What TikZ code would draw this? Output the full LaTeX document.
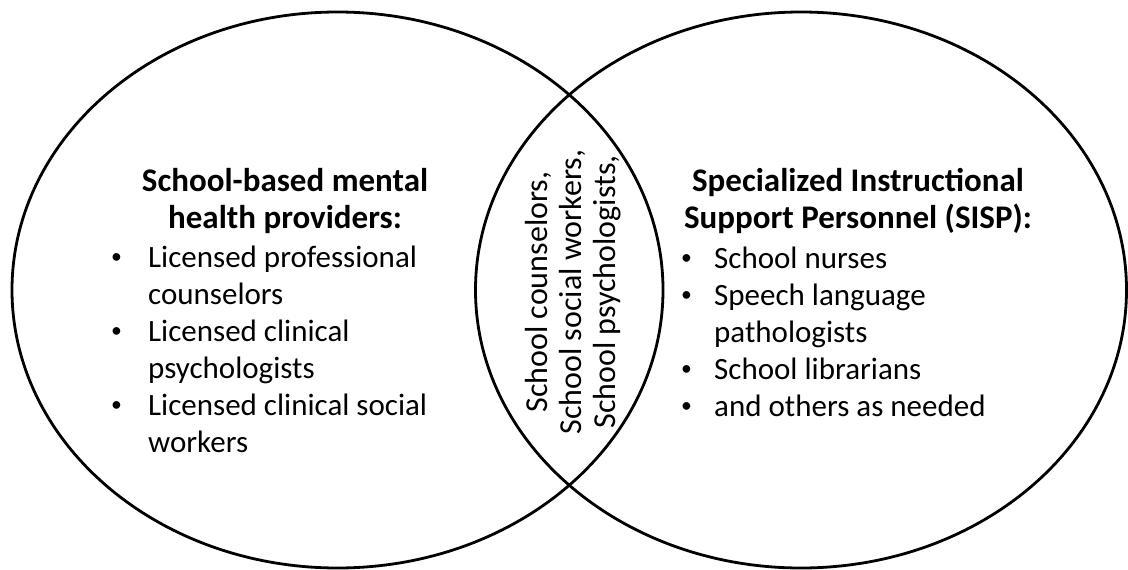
\documentclass[tikz,border=0pt]{standalone}
\usepackage{fontspec}
\setmainfont{Carlito}
\usetikzlibrary{shapes.geometric}
\tikzset{
  x=1pt, y=-1pt, % picture measured in pixels of the original
  venn/.style={ellipse, draw=black, line width=2.8pt, minimum width=651pt, minimum height=556pt}, % the two circles
  heading/.style={align=center, font=\fontsize{33}{37}\selectfont\bfseries, inner sep=0pt},
  items/.style={align=left, anchor=west, font=\fontsize{31}{37}\selectfont, inner sep=0pt},
  overlap/.style={align=center, rotate=90, font=\fontsize{32}{34}\selectfont, inner sep=0pt}
}
\newcommand{\bul}[1]{\makebox[#1][l]{\raisebox{0.12em}{\scalebox{0.7}{\textbullet}}}}

\begin{document}
\begin{tikzpicture}
  \useasboundingbox (0,0) rectangle (1128,570);

  \node[venn] (mh) at (337.5,290) {};
  \node[venn] (sisp) at (801,290) {};

  % left set
  \node[heading] (mhtitle) at (285,201) {School-based mental\\health providers:};
  \node[items] (mhlist) at (111,349) {\bul{37pt}Licensed professional\\
    \hspace*{37pt}counselors\\
    \bul{37pt}Licensed clinical\\
    \hspace*{37pt}psychologists\\
    \bul{37pt}Licensed clinical social\\
    \hspace*{37pt}workers};

  % right set
  \node[heading] (sisptitle) at (858,201) {Specialized Instructional\\Support Personnel (SISP):};
  \node[items] (sisplist) at (681,332) {\bul{33pt}School nurses\\
    \bul{33pt}Speech language\\
    \hspace*{33pt}pathologists\\
    \bul{33pt}School librarians\\
    \bul{33pt}and others as needed};

  % overlap
  \node[overlap] (both) at (573,292) {School counselors,\\School social workers,\\School psychologists,};
\end{tikzpicture}
\end{document}
